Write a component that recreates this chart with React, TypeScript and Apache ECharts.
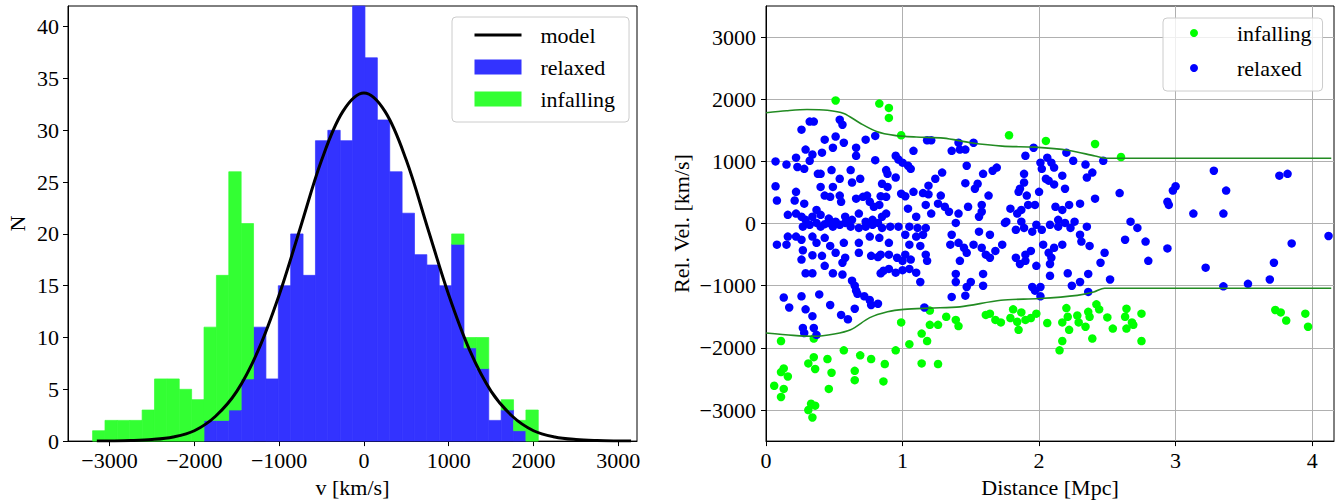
import * as echarts from "echarts";
import { useEffect, useRef } from "react";

// histogram bins (left edges + last right edge), km/s
const binEdges = [
    -3200, -3054, -2908, -2762, -2616, -2470, -2324, -2178, -2032, -1886, -1740, -1594,
    -1448, -1302, -1156, -1010, -864, -718, -572, -426, -280, -134, 12, 158,
    304, 450, 596, 742, 888, 1034, 1180, 1326, 1472, 1618, 1764, 1910, 2056,
];
const relaxedCounts = [
    0, 0, 0, 0, 0, 0, 0, 0, 0, 2, 2, 3, 6, 11, 6, 15, 20, 16,
    29, 30, 29, 44, 37, 31, 26, 22, 18, 17, 15, 19, 9, 7, 2, 3, 1, 0,
];
const infallingCounts = [
    1, 2, 2, 2, 3, 6, 6, 5, 4, 9, 14, 23, 15, 0, 0, 0, 0, 0,
    0, 0, 0, 0, 0, 0, 0, 0, 0, 0, 0, 1, 1, 3, 0, 1, 1, 3,
];

// model curve: [v, N]
const modelCurve = [
    [-3150, 0], [-3000, 0.01], [-2750, 0.05], [-2500, 0.15], [-2250, 0.4], [-2000, 1.0],
    [-1750, 2.4], [-1500, 4.8], [-1250, 8.7], [-1000, 14.1], [-750, 20.6], [-500, 27.1],
    [-250, 31.8], [0, 33.6], [250, 31.8], [500, 27.1], [750, 20.6], [1000, 14.1],
    [1250, 8.7], [1500, 4.8], [1750, 2.4], [2000, 1.0], [2250, 0.4], [2500, 0.15],
    [2750, 0.05], [3000, 0.01], [3150, 0],
];

const histXTicks = [-3000, -2000, -1000, 0, 1000, 2000, 3000];
const histYTicks = [0, 5, 10, 15, 20, 25, 30, 35, 40];
const distTicks = [0, 1, 2, 3, 4];
const velTicks = [-3000, -2000, -1000, 0, 1000, 2000, 3000];

// caustic-like boundaries: [distance Mpc, velocity km/s]
const upperBound = [
    [0, 1783], [0.15, 1815], [0.3, 1835], [0.45, 1824], [0.57, 1772], [0.69, 1614],
    [0.81, 1482], [0.94, 1419], [1.1, 1392], [1.3, 1375], [1.5, 1300], [1.73, 1245],
    [1.97, 1229], [2.22, 1176], [2.41, 1086], [2.5, 1050], [4.14, 1050],
];
const lowerBound = [
    [0, -1761], [0.2, -1799], [0.35, -1814], [0.5, -1777], [0.62, -1709], [0.76, -1514],
    [0.89, -1419], [1.01, -1381], [1.2, -1360], [1.42, -1340], [1.72, -1234], [2.0, -1207],
    [2.28, -1155], [2.4, -1102], [2.48, -1040], [4.14, -1040],
];

const infallingPoints = [
    [0.51, 1980], [0.83, 1930], [0.9, 1860], [0.9, 1700], [0.99, 1420], [1.78, 1420],
    [2.05, 1330], [2.41, 1280], [2.6, 1070],
    [0.11, -1890], [0.35, -1850], [0.99, -1590], [1.2, -1400], [1.32, -1500], [1.39, -1550],
    [1.41, -1650], [1.2, -1630], [1.26, -1630], [1.14, -1770], [1.18, -1890], [1.05, -1940],
    [0.95, -2040], [0.57, -2040], [0.69, -2120], [0.77, -2180], [0.87, -2260], [1.14, -2250],
    [1.26, -2260], [0.35, -2150], [0.31, -2250], [0.36, -2340], [0.45, -2180], [0.13, -2330],
    [0.11, -2390], [0.16, -2460], [0.48, -2400], [0.65, -2370], [0.65, -2520], [0.86, -2540],
    [0.06, -2610], [0.13, -2660], [0.11, -2790], [0.46, -2660], [0.33, -2900], [0.36, -2930],
    [0.31, -3000], [0.34, -3120],
    [1.61, -1470], [1.64, -1450], [1.68, -1550], [1.72, -1590], [1.79, -1520], [1.81, -1380],
    [1.87, -1430], [1.84, -1580], [1.85, -1710], [1.9, -1550], [1.94, -1520], [1.98, -1450],
    [2.06, -1600], [2.17, -1590], [2.2, -1360], [2.21, -1500], [2.22, -1710], [2.28, -1480],
    [2.29, -1590], [2.34, -1660], [2.36, -1420], [2.37, -1500], [2.42, -1300], [2.44, -1380],
    [2.39, -1850], [2.5, -1510], [2.54, -1690], [2.64, -1370], [2.63, -1500], [2.68, -1590],
    [2.64, -1690], [2.69, -1630], [2.75, -1450], [2.75, -1890], [2.17, -1890], [2.15, -2040],
    [3.73, -1390], [3.77, -1430], [3.81, -1560], [3.95, -1450], [3.97, -1660],
];

const relaxedPoints = [
    [0.32, 1640], [0.35, 1640], [0.26, 1510], [0.54, 1670], [0.56, 1590], [0.51, 1400], [0.57, 1300],
    [0.49, 1220], [0.43, 1350], [0.73, 1350], [0.8, 1410], [0.29, 1190], [0.34, 1110], [0.32, 1010],
    [0.22, 1060], [0.41, 1140], [0.66, 1220], [0.66, 1090], [0.8, 1020], [0.95, 1090], [0.97, 1030],
    [1.0, 980], [1.04, 930], [1.06, 880], [1.08, 1170], [1.18, 1340], [1.21, 1340], [0.07, 1000],
    [0.15, 950], [0.23, 910], [0.28, 880], [0.38, 800], [0.4, 800], [0.48, 860], [0.54, 720],
    [0.62, 860], [0.69, 720], [0.63, 660], [0.88, 860], [0.89, 800], [0.95, 740], [0.07, 600],
    [0.08, 370], [0.22, 510], [0.21, 370], [0.28, 320], [0.4, 590], [0.49, 590], [0.43, 450],
    [0.47, 430], [0.54, 450], [0.55, 350], [0.85, 640], [0.89, 590], [0.84, 440], [0.88, 430],
    [0.99, 480], [1.02, 440], [0.66, 400], [0.71, 430], [0.74, 450], [0.76, 350], [0.68, 160],
    [0.79, 270], [0.83, 300], [0.88, 160], [0.85, 110], [1.08, 510], [1.15, 490], [1.19, 470],
    [1.24, 720], [1.19, 610], [1.04, 240], [1.1, 110], [1.17, 300], [1.21, 160], [0.16, 140],
    [0.22, 160], [0.26, 110], [0.29, 60], [0.34, 110], [0.37, 220], [0.4, 140], [0.46, 80],
    [0.51, 30], [0.58, 110], [0.63, 60], [0.73, 30], [0.78, 60],
    [0.27, -50], [0.32, -20], [0.37, 10], [0.4, -50], [0.43, -10], [0.46, 10], [0.49, -50],
    [0.54, -20], [0.58, 10], [0.62, -50], [0.68, -70], [0.73, -50], [0.78, -20], [0.82, 10],
    [0.85, -70], [0.91, -50], [0.97, -50], [1.05, -50], [1.11, -70], [1.17, -70], [0.16, -210],
    [0.22, -210], [0.26, -260], [0.34, -210], [0.37, -310], [0.43, -230], [0.47, -360], [0.57, -310],
    [0.68, -310], [0.76, -210], [0.83, -230], [0.9, -310], [1.02, -180], [1.1, -210], [1.15, -180],
    [1.13, -360], [1.05, -340], [0.08, -340], [0.15, -340], [0.27, -430], [0.34, -510], [0.26, -580],
    [0.41, -520], [0.43, -680], [0.51, -470], [0.58, -550], [0.56, -630], [0.68, -470], [0.77, -520],
    [0.82, -540], [0.84, -500], [0.9, -500], [0.96, -550], [1.0, -600], [1.02, -500], [1.06, -580],
    [1.17, -500], [1.18, -600], [0.29, -800], [0.34, -800], [0.49, -800], [0.56, -820], [0.63, -920],
    [0.65, -1000], [0.84, -800], [0.86, -760], [0.9, -730], [0.95, -790], [1.0, -750], [1.05, -730],
    [1.1, -790], [1.13, -940], [0.13, -1190], [0.26, -1170], [0.39, -1140], [0.47, -1310], [0.17, -1350],
    [0.29, -1380], [0.34, -1490], [0.55, -1470], [0.6, -1540], [0.65, -1370], [0.67, -1130], [0.72, -1170],
    [0.76, -1230], [0.77, -1310], [0.82, -1290], [0.66, -1080], [0.27, -1680], [0.28, -1760], [0.35, -1680],
    [0.37, -1790], [1.16, -1350],
    [1.36, 1170], [1.41, 1300], [1.42, 1190], [1.46, 1190], [1.52, 1300], [1.9, 1090], [1.96, 1220],
    [2.01, 980], [2.06, 1060], [2.09, 980], [2.11, 900], [2.02, 880], [2.2, 1140], [2.25, 1010],
    [2.34, 950], [2.39, 820], [2.35, 740], [2.47, 1010], [1.29, 820], [1.47, 930], [1.69, 900],
    [1.66, 850], [1.59, 800], [1.55, 640], [1.53, 560], [1.46, 650], [1.89, 800], [1.89, 660],
    [1.86, 560], [1.85, 510], [1.91, 450], [2.0, 510], [2.05, 720], [2.07, 690], [2.11, 630],
    [2.17, 770], [2.19, 560], [1.63, 450], [1.28, 450], [1.26, 320], [1.31, 270], [1.34, 190],
    [1.41, 160], [1.48, 270], [1.56, 110], [1.58, 300], [1.58, 190], [1.79, 240], [1.84, 160],
    [1.87, 220], [1.92, 300], [1.97, 300], [1.76, 30], [1.87, 30], [2.12, 270], [2.17, 220],
    [2.22, 300], [2.3, 320], [2.41, 400], [2.14, 60], [2.26, 30],
    [1.39, 10], [1.36, -180], [1.56, -130], [1.64, -180], [1.75, 10], [1.83, -100], [1.89, -70],
    [1.95, -130], [1.98, -20], [2.02, -100], [2.08, -20], [2.14, -50], [2.19, 10], [2.23, -70],
    [2.3, -180], [2.35, -50], [1.35, -340], [1.41, -310], [1.45, -390], [1.47, -470], [1.52, -340],
    [1.58, -390], [1.61, -500], [1.64, -550], [1.68, -440], [1.73, -340], [1.42, -600], [1.83, -550],
    [1.86, -650], [1.9, -500], [1.94, -440], [1.9, -600], [1.98, -680], [2.03, -340], [2.07, -470],
    [2.11, -390], [2.08, -650], [2.17, -340], [2.09, -550], [2.31, -290], [2.37, -360], [2.48, -470],
    [2.45, -630], [1.39, -810], [1.39, -940], [1.5, -940], [1.47, -1020], [1.59, -810], [1.59, -1000],
    [1.36, -1180], [1.46, -1160], [1.95, -1020], [2.01, -1020], [1.97, -1080], [2.01, -1170], [2.08, -840],
    [2.21, -800], [2.36, -810], [2.24, -1000], [2.3, -940], [2.36, -1100],
    [2.67, 30], [2.72, -70], [2.63, -260], [2.78, -290], [2.8, -600], [2.52, -900], [2.94, -400],
    [3.22, -710], [3.35, -1010], [3.53, -970], [3.69, -900], [3.72, -630], [3.85, -320], [4.12, -200],
    [3.28, 850], [3.76, 770], [3.82, 800], [3.0, 600], [2.98, 530], [3.37, 530], [2.94, 350],
    [2.95, 300], [3.13, 160], [3.35, 160], [2.59, 490],
];

const FONT = "Liberation Serif";
const minus = (v: number) => String(v).replace("-", "\u2212");

const renderBar = (params: any, api: any) => {
    const y0 = api.value(2);
    const y1 = api.value(3);
    if (y1 <= y0) return null;
    const p0 = api.coord([api.value(0), y0]);
    const p1 = api.coord([api.value(1), y1]);
    const top = Math.max(p1[1], params.coordSys.y);
    const color = api.visual("color");
    return {
        type: "rect",
        shape: { x: p0[0], y: top, width: p1[0] - p0[0], height: p0[1] - top },
        style: { fill: color, stroke: color, lineWidth: 0.7 },
    };
};

const App: React.FC = () => {
    const chartRef = useRef<HTMLDivElement>(null);

    useEffect(() => {
        document.body.style.margin = "0";
        const chart = echarts.init(chartRef.current!, null, { renderer: "svg" });

        const relaxedBars = relaxedCounts.map((c, i) => [binEdges[i], binEdges[i + 1], 0, c]);
        const infallingBars = infallingCounts.map((c, i) => [
            binEdges[i],
            binEdges[i + 1],
            relaxedCounts[i],
            relaxedCounts[i] + c,
        ]);

        const axisCommon = {
            axisLine: { onZero: false, lineStyle: { color: "#000", width: 1 } },
            axisTick: { length: 5, lineStyle: { color: "#000" } },
            axisLabel: { color: "#000", fontSize: 22, fontFamily: FONT },
            nameTextStyle: { color: "#000", fontSize: 22, fontFamily: FONT },
            nameLocation: "middle" as const,
        };

        const legendCommon = {
            orient: "vertical" as const,
            backgroundColor: "rgba(255,255,255,0.8)",
            borderColor: "#cccccc",
            borderWidth: 1,
            borderRadius: 4,
            selectedMode: false,
            textStyle: { color: "#000", fontSize: 22, fontFamily: FONT, lineHeight: 20 },
        };

        const option = {
            animation: false,
            textStyle: { fontFamily: FONT },
            grid: [
                { left: 68, top: 6, width: 569, height: 442, show: true, borderColor: "#000", borderWidth: 1 },
                { left: 766, top: 6, width: 568, height: 442, show: true, borderColor: "#000", borderWidth: 1 },
            ],
            legend: [
                {
                    ...legendCommon,
                    left: 452,
                    top: 17,
                    padding: [7, 14, 12, 21],
                    itemWidth: 47,
                    itemHeight: 15,
                    itemGap: 10,
                    textStyle: { ...legendCommon.textStyle, padding: [0, 0, 0, 14] },
                    data: [
                        {
                            name: "model",
                            itemStyle: { color: "rgba(0,0,0,0)", borderWidth: 0 },
                            lineStyle: { color: "#000", width: 3 },
                        },
                        { name: "relaxed", icon: "rect", itemStyle: { color: "#3333ff" } },
                        { name: "infalling", icon: "rect", itemStyle: { color: "#33ff33" } },
                    ],
                },
                {
                    ...legendCommon,
                    left: 1163,
                    top: 18,
                    padding: [4, 11, 12, 27],
                    itemWidth: 8,
                    itemHeight: 8,
                    itemGap: 13,
                    textStyle: { ...legendCommon.textStyle, padding: [0, 0, 0, 34] },
                    data: [
                        { name: "infalling", icon: "circle", itemStyle: { color: "#00ff00" } },
                        { name: "relaxed", icon: "circle", itemStyle: { color: "#0000ff" } },
                    ],
                },
            ],
            xAxis: [
                {
                    ...axisCommon,
                    gridIndex: 0,
                    type: "value",
                    min: -3490,
                    max: 3220,
                    name: "v [km/s]",
                    nameGap: 31,
                    splitLine: { show: false },
                    axisTick: { ...axisCommon.axisTick, customValues: histXTicks },
                    axisLabel: { ...axisCommon.axisLabel, margin: 8, customValues: histXTicks, formatter: minus },
                },
                {
                    ...axisCommon,
                    gridIndex: 1,
                    type: "value",
                    min: 0,
                    max: 4.16,
                    name: "Distance [Mpc]",
                    nameGap: 31,
                    splitLine: { show: true, lineStyle: { color: "#b0b0b0", width: 1 } },
                    axisTick: { ...axisCommon.axisTick, customValues: distTicks },
                    axisLabel: { ...axisCommon.axisLabel, margin: 8, customValues: distTicks },
                },
            ],
            yAxis: [
                {
                    ...axisCommon,
                    gridIndex: 0,
                    type: "value",
                    min: 0,
                    max: 42,
                    name: "N",
                    nameGap: 40,
                    splitLine: { show: false },
                    axisTick: { ...axisCommon.axisTick, customValues: histYTicks },
                    axisLabel: { ...axisCommon.axisLabel, margin: 9, customValues: histYTicks },
                },
                {
                    ...axisCommon,
                    gridIndex: 1,
                    type: "value",
                    min: -3500,
                    max: 3500,
                    name: "Rel. Vel. [km/s]",
                    nameGap: 74,
                    splitLine: { show: true, lineStyle: { color: "#b0b0b0", width: 1 } },
                    axisTick: { ...axisCommon.axisTick, customValues: velTicks },
                    axisLabel: { ...axisCommon.axisLabel, margin: 10, customValues: velTicks, formatter: minus },
                },
            ],
            series: [
                {
                    name: "relaxed",
                    type: "custom",
                    xAxisIndex: 0,
                    yAxisIndex: 0,
                    renderItem: renderBar,
                    itemStyle: { color: "#3333ff" },
                    encode: { x: [0, 1], y: [2, 3] },
                    data: relaxedBars,
                },
                {
                    name: "infalling",
                    type: "custom",
                    xAxisIndex: 0,
                    yAxisIndex: 0,
                    renderItem: renderBar,
                    itemStyle: { color: "#33ff33" },
                    encode: { x: [0, 1], y: [2, 3] },
                    data: infallingBars,
                },
                {
                    name: "model",
                    type: "line",
                    xAxisIndex: 0,
                    yAxisIndex: 0,
                    symbol: "none",
                    smooth: 0.35,
                    lineStyle: { color: "#000", width: 3 },
                    itemStyle: { color: "#000" },
                    data: modelCurve,
                    z: 5,
                },
                {
                    name: "infalling",
                    type: "scatter",
                    xAxisIndex: 1,
                    yAxisIndex: 1,
                    symbolSize: 8.5,
                    itemStyle: { color: "#00ff00", opacity: 1 },
                    data: infallingPoints,
                },
                {
                    name: "relaxed",
                    type: "scatter",
                    xAxisIndex: 1,
                    yAxisIndex: 1,
                    symbolSize: 8.5,
                    itemStyle: { color: "#0000ff", opacity: 1 },
                    data: relaxedPoints,
                },
                {
                    name: "upper",
                    type: "line",
                    xAxisIndex: 1,
                    yAxisIndex: 1,
                    symbol: "none",
                    smooth: 0.3,
                    lineStyle: { color: "#228b22", width: 1.6 },
                    data: upperBound,
                    z: 4,
                },
                {
                    name: "lower",
                    type: "line",
                    xAxisIndex: 1,
                    yAxisIndex: 1,
                    symbol: "none",
                    smooth: 0.3,
                    lineStyle: { color: "#228b22", width: 1.6 },
                    data: lowerBound,
                    z: 4,
                },
            ],
        };

        chart.setOption(option);

        return () => {
            chart.dispose();
        };
    }, []);

    return <div ref={chartRef} style={{ width: "1341px", height: "503px" }} />;
};

export default App;
